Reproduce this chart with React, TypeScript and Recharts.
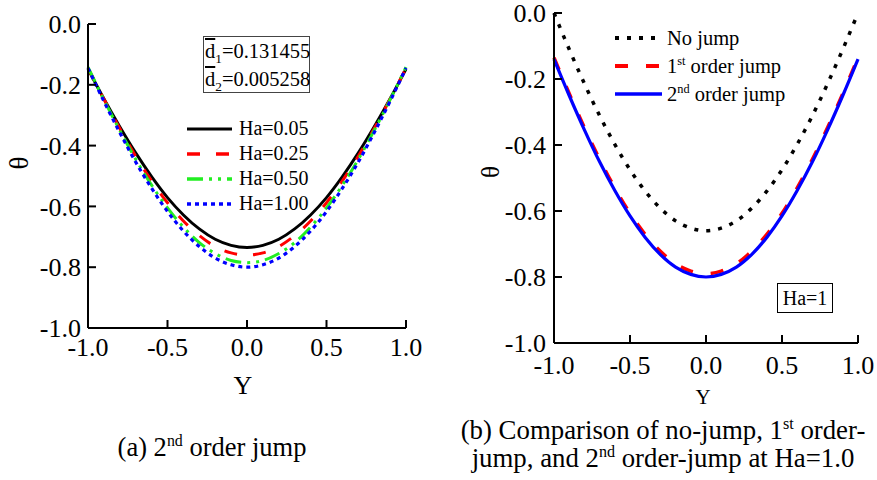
import React from "react";
import { Legend, Line, LineChart, XAxis, YAxis } from "recharts";

const serif = "'Liberation Serif', 'Times New Roman', serif";

// Y positions across the channel
const yCoords = [-1, -0.9, -0.8, -0.7, -0.6, -0.5, -0.4, -0.3, -0.2, -0.1, 0, 0.1, 0.2, 0.3, 0.4, 0.5, 0.6, 0.7, 0.8, 0.9, 1];

// (a) 2nd order jump, theta for each Ha
const ha005 = [-0.148, -0.246, -0.338, -0.424, -0.502, -0.571, -0.628, -0.674, -0.708, -0.728, -0.735, -0.728, -0.708, -0.674, -0.628, -0.571, -0.502, -0.424, -0.338, -0.246, -0.148];
const ha025 = [-0.145, -0.247, -0.344, -0.435, -0.516, -0.588, -0.648, -0.696, -0.732, -0.753, -0.76, -0.753, -0.732, -0.696, -0.648, -0.588, -0.516, -0.435, -0.344, -0.247, -0.145];
const ha050 = [-0.142, -0.249, -0.35, -0.445, -0.53, -0.605, -0.668, -0.719, -0.755, -0.778, -0.785, -0.778, -0.755, -0.719, -0.668, -0.605, -0.53, -0.445, -0.35, -0.249, -0.142];
const ha100 = [-0.145, -0.254, -0.357, -0.454, -0.54, -0.617, -0.681, -0.732, -0.77, -0.792, -0.8, -0.792, -0.77, -0.732, -0.681, -0.617, -0.54, -0.454, -0.357, -0.254, -0.145];

// (b) comparison at Ha=1.0
const noJump = [0, -0.11, -0.214, -0.311, -0.398, -0.475, -0.54, -0.592, -0.63, -0.652, -0.66, -0.652, -0.63, -0.592, -0.54, -0.475, -0.398, -0.311, -0.214, -0.11, 0];
const firstOrder = [-0.135, -0.244, -0.347, -0.443, -0.53, -0.607, -0.671, -0.722, -0.76, -0.782, -0.79, -0.782, -0.76, -0.722, -0.671, -0.607, -0.53, -0.443, -0.347, -0.244, -0.135];
const secondOrder = [-0.14, -0.25, -0.354, -0.451, -0.538, -0.615, -0.68, -0.732, -0.77, -0.792, -0.8, -0.792, -0.77, -0.732, -0.68, -0.615, -0.538, -0.451, -0.354, -0.25, -0.14];

const xTicks = [-1, -0.5, 0, 0.5, 1];
const thetaTicks = [-1, -0.8, -0.6, -0.4, -0.2, 0];

const leftData = yCoords.map((y, i) => ({ y, ha005: ha005[i], ha025: ha025[i], ha050: ha050[i], ha100: ha100[i] }));
const rightData = yCoords.map((y, i) => ({ y, noJump: noJump[i], firstOrder: firstOrder[i], secondOrder: secondOrder[i] }));

type Series = {
  key: string;
  pre: string;
  sup?: string;
  post?: string;
  color: string;
  dash?: string;
  width: number;
};

const leftSeries: Series[] = [
  { key: "ha005", pre: "Ha=0.05", color: "#000000", width: 2.9 },
  { key: "ha025", pre: "Ha=0.25", color: "#ff0000", dash: "13 16", width: 3 },
  { key: "ha050", pre: "Ha=0.50", color: "#22ee22", dash: "16 6 3 6 3 6", width: 3 },
  { key: "ha100", pre: "Ha=1.00", color: "#0000ff", dash: "4 4", width: 3.2 },
];

const rightSeries: Series[] = [
  { key: "noJump", pre: "No jump", color: "#000000", dash: "4 8", width: 3.5 },
  { key: "firstOrder", pre: "1", sup: "st", post: " order jump", color: "#ff0000", dash: "13 18", width: 3.5 },
  { key: "secondOrder", pre: "2", sup: "nd", post: " order jump", color: "#0000ff", width: 3.2 },
];

const fmt = (v: number) => v.toFixed(1);
const axisLine = { stroke: "#000", strokeWidth: 2 };

function LegendBox({ items, lineW, gap, rowH, fontSize }: { items: Series[]; lineW: number; gap: number; rowH: number; fontSize: number }) {
  return (
    <div style={{ fontFamily: serif, fontSize, color: "#000" }}>
      {items.map((s) => (
        <div key={s.key} style={{ display: "flex", alignItems: "center", height: rowH }}>
          <svg width={lineW} height={8} style={{ marginRight: gap, flex: "none" }}>
            <line x1={0} y1={4} x2={lineW} y2={4} stroke={s.color} strokeWidth={s.width + 0.3} strokeDasharray={s.dash} />
          </svg>
          <span style={{ whiteSpace: "nowrap", lineHeight: `${rowH}px` }}>
            {s.pre}
            {s.sup && <sup style={{ fontSize: "0.6em", lineHeight: 0 }}>{s.sup}</sup>}
            {s.post}
          </span>
        </div>
      ))}
    </div>
  );
}

const thetaTitle = (dx: number, dy: number, size: number) => (props: any) => {
  const vb = props.viewBox;
  const cx = vb.x + vb.width + dx;
  const cy = vb.y + vb.height / 2 + dy;
  return (
    <text x={cx} y={cy} transform={`rotate(-90 ${cx} ${cy})`} textAnchor="middle" dominantBaseline="central" fontFamily={serif} fontSize={size} fill="#000">
      θ
    </text>
  );
};

const yTitle = (dx: number, dy: number, size: number) => (props: any) => {
  const vb = props.viewBox;
  const cx = vb.x + vb.width / 2 + dx;
  const cy = vb.y + dy;
  return (
    <text x={cx} y={cy} textAnchor="middle" dominantBaseline="central" fontFamily={serif} fontSize={size} fill="#000">
      Y
    </text>
  );
};

function LeftChart() {
  return (
    <LineChart width={440} height={480} data={leftData} margin={{ top: 24, right: 34, bottom: 122, left: 28 }}>
      <XAxis dataKey="y" type="number" domain={[-1, 1]} ticks={xTicks} interval={0} tickFormatter={fmt} height={30}
        axisLine={axisLine} tickLine={axisLine} tickSize={-8} tickMargin={18}
        tick={{ fontFamily: serif, fontSize: 26, fill: "#000" }} label={{ content: yTitle(-4, 57, 26) }} />
      <XAxis xAxisId="top" orientation="top" dataKey="y" type="number" domain={[-1, 1]} ticks={xTicks} interval={0} height={0}
        axisLine={axisLine} tickLine={axisLine} tickSize={-8} tick={false} />
      <YAxis type="number" domain={[-1, 0]} ticks={thetaTicks} interval={0} tickFormatter={fmt} width={60}
        axisLine={axisLine} tickLine={axisLine} tickSize={-8} tickMargin={15}
        tick={{ fontFamily: serif, fontSize: 26, fill: "#000" }} label={{ content: thetaTitle(-69, -13, 27) }} />
      <YAxis yAxisId="right" orientation="right" type="number" domain={[-1, 0]} ticks={thetaTicks} interval={0} width={0}
        axisLine={axisLine} tickLine={axisLine} tickSize={-8} tick={false} />
      {leftSeries.map((s) => (
        <Line key={s.key} dataKey={s.key} type="monotone" stroke={s.color} strokeWidth={s.width} strokeDasharray={s.dash}
          dot={false} activeDot={false} isAnimationActive={false} />
      ))}
      <Legend layout="vertical" align="center" verticalAlign="middle" wrapperStyle={{ left: 187, top: 116 }}
        content={() => <LegendBox items={leftSeries} lineW={45} gap={7} rowH={25} fontSize={20} />} />
    </LineChart>
  );
}

function RightChart() {
  return (
    <LineChart width={437} height={480} data={rightData} margin={{ top: 13, right: 19, bottom: 107, left: 54 }}>
      <XAxis dataKey="y" type="number" domain={[-1, 1]} ticks={xTicks} interval={0} tickFormatter={fmt} height={30}
        axisLine={axisLine} tickLine={axisLine} tickSize={-8} tickMargin={21}
        tick={{ fontFamily: serif, fontSize: 26, fill: "#000" }} label={{ content: yTitle(-3, 54, 21) }} />
      <XAxis xAxisId="top" orientation="top" dataKey="y" type="number" domain={[-1, 1]} ticks={xTicks} interval={0} height={0}
        axisLine={axisLine} tickLine={axisLine} tickSize={-8} tick={false} />
      <YAxis type="number" domain={[-1, 0]} ticks={thetaTicks} interval={0} tickFormatter={fmt} width={60}
        axisLine={axisLine} tickLine={axisLine} tickSize={-8} tickMargin={16}
        tick={{ fontFamily: serif, fontSize: 26, fill: "#000" }} label={{ content: thetaTitle(-64, -6, 25) }} />
      <YAxis yAxisId="right" orientation="right" type="number" domain={[-1, 0]} ticks={thetaTicks} interval={0} width={0}
        axisLine={axisLine} tickLine={axisLine} tickSize={-8} tick={false} />
      {rightSeries.map((s) => (
        <Line key={s.key} dataKey={s.key} type="monotone" stroke={s.color} strokeWidth={s.width} strokeDasharray={s.dash}
          dot={false} activeDot={false} isAnimationActive={false} />
      ))}
      <Legend layout="vertical" align="center" verticalAlign="middle" wrapperStyle={{ left: 175, top: 24 }}
        content={() => <LegendBox items={rightSeries} lineW={47} gap={5} rowH={28} fontSize={20.5} />} />
    </LineChart>
  );
}

export default function App() {
  const box: React.CSSProperties = { position: "absolute", fontFamily: serif, color: "#000", boxSizing: "border-box" };
  return (
    <div style={{ position: "absolute", left: 0, top: 0, width: 877, height: 480, background: "#fff", overflow: "hidden" }}>
      <div style={{ position: "absolute", left: 0, top: 0 }}>
        <LeftChart />
      </div>
      <div style={{ position: "absolute", left: 440, top: 0 }}>
        <RightChart />
      </div>
      <div style={{ ...box, left: 203, top: 36, width: 107, height: 57, border: "1px solid #444", fontSize: 20.5, lineHeight: "28px", paddingLeft: 1, background: "#fff" }}>
        <div>
          <span style={{ textDecoration: "overline" }}>d</span>
          <sub style={{ fontSize: "0.65em", lineHeight: 0 }}>1</sub>=0.131455
        </div>
        <div>
          <span style={{ textDecoration: "overline" }}>d</span>
          <sub style={{ fontSize: "0.65em", lineHeight: 0 }}>2</sub>=0.005258
        </div>
      </div>
      <div style={{ ...box, left: 777, top: 283, width: 56, height: 30, border: "1px solid #000", fontSize: 20, lineHeight: "28px", textAlign: "center", background: "#fff" }}>
        Ha=1
      </div>
      <div style={{ ...box, left: 92, top: 432, width: 240, fontSize: 26.5, lineHeight: "30px", textAlign: "center" }}>
        (a) 2<sup style={{ fontSize: "0.6em", lineHeight: 0 }}>nd</sup> order jump
      </div>
      <div style={{ ...box, left: 433, top: 416, width: 460, fontSize: 26.8, lineHeight: "28px", textAlign: "center" }}>
        <div>
          (b) Comparison of no-jump, 1<sup style={{ fontSize: "0.6em", lineHeight: 0 }}>st</sup> order-
        </div>
        <div>
          jump, and 2<sup style={{ fontSize: "0.6em", lineHeight: 0 }}>nd</sup> order-jump at Ha=1.0
        </div>
      </div>
    </div>
  );
}
